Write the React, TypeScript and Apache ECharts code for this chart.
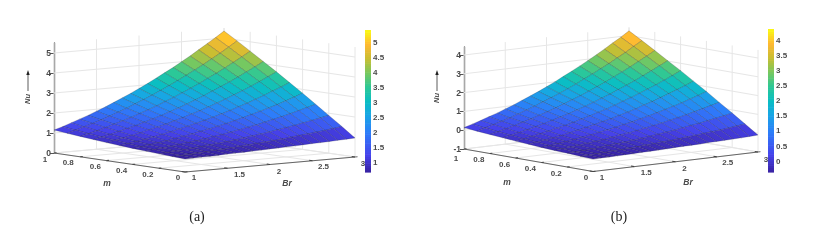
import React, { useEffect, useRef } from "react";
import * as echarts from "echarts";

const brValues = [1, 1.1, 1.2, 1.3, 1.4, 1.5, 1.6, 1.7, 1.8, 1.9, 2, 2.1, 2.2, 2.3, 2.4, 2.5, 2.6, 2.7, 2.8, 2.9, 3];
const mValues = [0, 0.1, 0.2, 0.3, 0.4, 0.5, 0.6, 0.7, 0.8, 0.9, 1];

// Nu values: one row per m, one column per Br
const nuA = [
  [0.65, 0.66, 0.67, 0.68, 0.69, 0.71, 0.72, 0.73, 0.75, 0.76, 0.78, 0.79, 0.81, 0.82, 0.84, 0.86, 0.87, 0.89, 0.91, 0.93, 0.95],
  [0.68, 0.70, 0.72, 0.74, 0.77, 0.80, 0.82, 0.85, 0.89, 0.92, 0.96, 0.99, 1.03, 1.07, 1.12, 1.17, 1.21, 1.26, 1.31, 1.37, 1.43],
  [0.72, 0.75, 0.78, 0.81, 0.85, 0.90, 0.94, 0.98, 1.03, 1.08, 1.14, 1.20, 1.26, 1.32, 1.40, 1.47, 1.54, 1.63, 1.71, 1.80, 1.89],
  [0.76, 0.80, 0.84, 0.89, 0.94, 1.00, 1.05, 1.12, 1.19, 1.25, 1.33, 1.41, 1.50, 1.58, 1.68, 1.78, 1.88, 1.99, 2.11, 2.23, 2.35],
  [0.80, 0.85, 0.91, 0.97, 1.03, 1.11, 1.18, 1.26, 1.35, 1.43, 1.53, 1.63, 1.74, 1.85, 1.97, 2.09, 2.22, 2.35, 2.50, 2.65, 2.81],
  [0.85, 0.91, 0.98, 1.05, 1.13, 1.22, 1.31, 1.41, 1.51, 1.62, 1.73, 1.85, 1.98, 2.11, 2.26, 2.40, 2.56, 2.72, 2.89, 3.06, 3.25],
  [0.90, 0.98, 1.06, 1.15, 1.24, 1.35, 1.45, 1.56, 1.69, 1.81, 1.95, 2.08, 2.23, 2.39, 2.55, 2.72, 2.89, 3.08, 3.27, 3.48, 3.69],
  [0.96, 1.05, 1.14, 1.25, 1.36, 1.47, 1.60, 1.73, 1.86, 2.01, 2.16, 2.32, 2.49, 2.66, 2.85, 3.04, 3.23, 3.44, 3.66, 3.88, 4.11],
  [1.02, 1.12, 1.23, 1.35, 1.48, 1.61, 1.75, 1.90, 2.05, 2.21, 2.39, 2.56, 2.75, 2.94, 3.14, 3.36, 3.57, 3.80, 4.04, 4.28, 4.53],
  [1.08, 1.20, 1.33, 1.46, 1.60, 1.75, 1.91, 2.07, 2.25, 2.43, 2.61, 2.81, 3.01, 3.23, 3.45, 3.68, 3.91, 4.16, 4.41, 4.68, 4.95],
  [1.15, 1.28, 1.43, 1.58, 1.73, 1.90, 2.07, 2.26, 2.45, 2.64, 2.85, 3.06, 3.29, 3.52, 3.75, 4.00, 4.25, 4.52, 4.79, 5.06, 5.35],
];

// Nu values
const nuB = [
  [-0.34, -0.33, -0.33, -0.32, -0.31, -0.30, -0.29, -0.28, -0.27, -0.26, -0.24, -0.23, -0.22, -0.21, -0.19, -0.18, -0.17, -0.15, -0.14, -0.12, -0.10],
  [-0.31, -0.30, -0.28, -0.26, -0.23, -0.21, -0.19, -0.16, -0.13, -0.10, -0.06, -0.04, 0, 0.04, 0.08, 0.13, 0.17, 0.21, 0.26, 0.32, 0.37],
  [-0.27, -0.25, -0.22, -0.19, -0.16, -0.11, -0.07, -0.04, 0.01, 0.06, 0.11, 0.17, 0.23, 0.28, 0.36, 0.43, 0.49, 0.58, 0.66, 0.74, 0.83],
  [-0.24, -0.20, -0.16, -0.12, -0.07, -0.01, 0.03, 0.10, 0.17, 0.22, 0.30, 0.38, 0.46, 0.54, 0.64, 0.73, 0.83, 0.94, 1.05, 1.17, 1.28],
  [-0.20, -0.15, -0.10, -0.04, 0.02, 0.09, 0.16, 0.24, 0.32, 0.40, 0.50, 0.59, 0.70, 0.80, 0.92, 1.04, 1.16, 1.29, 1.44, 1.58, 1.74],
  [-0.15, -0.09, -0.03, 0.04, 0.11, 0.20, 0.29, 0.38, 0.48, 0.59, 0.69, 0.81, 0.93, 1.06, 1.21, 1.34, 1.50, 1.66, 1.82, 1.99, 2.17],
  [-0.10, -0.03, 0.05, 0.14, 0.22, 0.33, 0.42, 0.53, 0.66, 0.77, 0.91, 1.03, 1.18, 1.34, 1.49, 1.66, 1.83, 2.01, 2.20, 2.40, 2.61],
  [-0.04, 0.04, 0.13, 0.23, 0.34, 0.45, 0.57, 0.70, 0.82, 0.97, 1.11, 1.27, 1.44, 1.60, 1.79, 1.97, 2.16, 2.37, 2.58, 2.80, 3.02],
  [0.01, 0.11, 0.22, 0.33, 0.46, 0.58, 0.72, 0.86, 1.01, 1.17, 1.34, 1.51, 1.69, 1.88, 2.07, 2.29, 2.50, 2.72, 2.96, 3.19, 3.44],
  [0.07, 0.19, 0.31, 0.44, 0.57, 0.72, 0.88, 1.03, 1.21, 1.38, 1.56, 1.75, 1.95, 2.17, 2.38, 2.61, 2.83, 3.08, 3.32, 3.59, 3.85],
  [0.14, 0.27, 0.41, 0.56, 0.70, 0.87, 1.03, 1.22, 1.40, 1.59, 1.79, 2.00, 2.23, 2.45, 2.68, 2.92, 3.17, 3.43, 3.70, 3.96, 4.25],
];

const brTicks = [1, 1.5, 2, 2.5, 3];
const mTicks = [1, 0.8, 0.6, 0.4, 0.2, 0];
const nuTicksA = [0, 1, 2, 3, 4, 5];
const nuTicksB = [-1, 0, 1, 2, 3, 4];
const barTicksA = [1, 1.5, 2, 2.5, 3, 3.5, 4, 4.5, 5];
const barTicksB = [0, 0.5, 1, 1.5, 2, 2.5, 3, 3.5, 4];

const COLOR_POS = [0, 0.12, 0.28, 0.4, 0.5, 0.6, 0.7, 0.8, 0.9, 1];
const COLOR_RGB: number[][] = [
  [56, 34, 160], [70, 66, 235], [45, 125, 250], [25, 165, 230], [10, 190, 195],
  [45, 200, 150], [120, 200, 95], [200, 190, 50], [255, 185, 50], [250, 250, 20],
];

function colormap(t: number) {
  const v = Math.max(0, Math.min(1, t));
  let i = 0;
  while (i < COLOR_POS.length - 2 && v > COLOR_POS[i + 1]) i++;
  const f = (v - COLOR_POS[i]) / (COLOR_POS[i + 1] - COLOR_POS[i]);
  const rgb = [0, 1, 2].map((k) => Math.round(COLOR_RGB[i][k] + (COLOR_RGB[i + 1][k] - COLOR_RGB[i][k]) * f));
  return `rgb(${rgb[0]},${rgb[1]},${rgb[2]})`;
}

type Panel = {
  left: number[]; front: number[]; right: number[];
  zScale: number; zFloor: number; zTop: number;
  nu: number[][]; nuTicks: number[]; min: number; max: number;
  barLeft: number; barTicks: number[];
};

const panels: Panel[] = [
  { left: [54, 153], front: [185, 172], right: [355, 157], zScale: 20, zFloor: 0, zTop: 5.5, nu: nuA, nuTicks: nuTicksA, min: 0.67, max: 5.4, barLeft: 365, barTicks: barTicksA },
  { left: [464, 149], front: [593, 171.5], right: [758, 152], zScale: 18.8, zFloor: -1, zTop: 4.43, nu: nuB, nuTicks: nuTicksB, min: -0.36, max: 4.37, barLeft: 768, barTicks: barTicksB },
];

function project(p: Panel, br: number, m: number, z: number) {
  const u = (br - 1) / 2;
  const v = m;
  return [
    p.front[0] + u * (p.right[0] - p.front[0]) + v * (p.left[0] - p.front[0]),
    p.front[1] + u * (p.right[1] - p.front[1]) + v * (p.left[1] - p.front[1]) - (z - p.zFloor) * p.zScale,
  ];
}

type Seg = { a: number[]; b: number[]; color: string; width: number };

function buildSegments(p: Panel): Seg[] {
  const grid = "#e6e6e6";
  const out: Seg[] = [];
  const push = (a: number[], b: number[], color: string, width: number) => out.push({ a, b, color, width });
  const f = p.zFloor;
  for (const br of brTicks) {
    push([br, 0, f], [br, 1, f], grid, 1);
    push([br, 1, f], [br, 1, p.zTop], grid, 1);
  }
  for (const m of mTicks) {
    push([1, m, f], [3, m, f], grid, 1);
    push([3, m, f], [3, m, p.zTop], grid, 1);
  }
  for (const z of p.nuTicks) {
    push([1, 1, z], [3, 1, z], grid, 1);
    push([3, 1, z], [3, 0, z], grid, 1);
  }
  return out;
}

function buildAxes(p: Panel): Seg[] {
  const dark = "#666666";
  const out: Seg[] = [];
  const f = p.zFloor;
  out.push({ a: [1, 1, f], b: [1, 0, f], color: dark, width: 1 });
  out.push({ a: [1, 0, f], b: [3.03, 0, f], color: dark, width: 1 });
  for (const m of mTicks) out.push({ a: [1, m, f], b: [1.03, m, f], color: "#444", width: 1.1 });
  for (const br of brTicks) out.push({ a: [br, 0, f], b: [br, 0.025, f], color: "#444", width: 1.1 });
  return out;
}

const mLabelOffsets = [[[-9, 6], [-12, 6], [-11, 6], [-11, 6], [-11, 6], [-7, 5]], [[-8, 9], [-11, 6], [-11, 6], [-11, 6], [-11, 6], [-7, 5.5]]];
const brLabelOffsets = [[[9, 5], [12, 6], [9, 6.5], [11, 6], [8, 6]], [[9, 5.5], [12, 6], [9, 6.5], [11, 6], [8, 7]]];
const labelFont = { fontFamily: "Liberation Sans", fontWeight: "bold" as const, fontSize: 8, fill: "#4a4a4a" };

function pageSeries(p: Panel, pi: number) {
  const segs = buildSegments(p);
  const axes = buildAxes(p);
  const lineRender = (list: Seg[]) => (params: any, api: any) => {
    const s = list[params.dataIndex];
    const a = api.coord(project(p, s.a[0], s.a[1], s.a[2]));
    const b = api.coord(project(p, s.b[0], s.b[1], s.b[2]));
    return { type: "line", shape: { x1: a[0], y1: a[1], x2: b[0], y2: b[1] }, style: { stroke: s.color, lineWidth: s.width } };
  };
  const cells: number[][] = [];
  for (let j = mValues.length - 2; j >= 0; j--) {
    for (let i = brValues.length - 2; i >= 0; i--) {
      cells.push([i, j]);
    }
  }
  const labels: { br: number; m: number; text: string; off: number[] }[] = [];
  mTicks.forEach((m, k) => labels.push({ br: 1, m, text: String(m), off: mLabelOffsets[pi][k] }));
  brTicks.forEach((br, k) => labels.push({ br, m: 0, text: String(br), off: brLabelOffsets[pi][k] }));

  return [
    {
      type: "custom", xAxisIndex: 0, yAxisIndex: 0, clip: false, z: 1, silent: true,
      data: segs.map((_, i) => [i, 0]), renderItem: lineRender(segs),
    },
    {
      type: "custom", xAxisIndex: 0, yAxisIndex: 0, clip: false, z: 2, silent: true,
      data: cells,
      renderItem: (params: any, api: any) => {
        const [i, j] = cells[params.dataIndex];
        const corners = [[i, j], [i + 1, j], [i + 1, j + 1], [i, j + 1]];
        let sum = 0;
        const points = corners.map(([a, b]) => {
          sum += p.nu[b][a];
          return api.coord(project(p, brValues[a], mValues[b], p.nu[b][a]));
        });
        const t = (sum / 4 - p.min) / (p.max - p.min);
        return {
          type: "polygon", shape: { points },
          style: { fill: colormap(t), stroke: "rgba(20,20,40,0.34)", lineWidth: 0.6 },
        };
      },
    },
    {
      type: "custom", xAxisIndex: 0, yAxisIndex: 0, clip: false, z: 3, silent: true,
      data: axes.map((_, i) => [i, 0]), renderItem: lineRender(axes),
    },
    {
      type: "custom", xAxisIndex: 0, yAxisIndex: 0, clip: false, z: 4, silent: true,
      data: labels.map((_, i) => [i, 0]),
      renderItem: (params: any, api: any) => {
        const l = labels[params.dataIndex];
        const c = api.coord(project(p, l.br, l.m, p.zFloor));
        return {
          type: "text",
          style: { text: l.text, x: c[0] + l.off[0], y: c[1] + l.off[1], align: "center", verticalAlign: "middle", ...labelFont },
        };
      },
    },
  ];
}

function barSeries(p: Panel, axisIndex: number) {
  const steps = 64;
  const bands = Array.from({ length: steps }, (_, i) => [0, i]);
  const h = (p.max - p.min) / steps;
  return {
    type: "custom", xAxisIndex: axisIndex, yAxisIndex: axisIndex, silent: true, z: 2,
    data: bands,
    renderItem: (params: any, api: any) => {
      const i = params.dataIndex;
      const a = api.coord([0, p.min + i * h]);
      const b = api.coord([1, p.min + (i + 1) * h]);
      return {
        type: "rect",
        shape: { x: a[0], y: b[1], width: b[0] - a[0], height: a[1] - b[1] + 0.6 },
        style: { fill: colormap((i + 0.5) / steps) },
      };
    },
  };
}

function annotation(x: number, y: number, text: string, style: any, rotation = 0) {
  return {
    type: "text", x, y, rotation, z: 10, silent: true,
    style: { text, align: "center", verticalAlign: "middle", ...style },
  };
}

export default function App() {
  const ref = useRef<HTMLDivElement>(null);
  useEffect(() => {
    const chart = echarts.init(ref.current!, undefined, { renderer: "svg" });
    const hiddenX = (gridIndex: number, min: number, max: number) => ({ type: "value", gridIndex, min, max, show: false });
    const nuAxis = (p: Panel, gridIndex: number) => ({
      type: "value", gridIndex, min: p.zFloor, max: p.zTop, position: "left",
      splitLine: { show: false },
      axisLine: { show: true, onZero: false, lineStyle: { color: "#6a6a6a", width: 1.4 } },
      axisTick: { show: true, length: 4, customValues: p.nuTicks, lineStyle: { color: "#555" } },
      axisLabel: { customValues: p.nuTicks, margin: 3, fontSize: 8.5, fontWeight: "bold", fontFamily: "Liberation Sans", color: "#4a4a4a" },
    });
    const barAxis = (p: Panel, gridIndex: number) => ({
      type: "value", gridIndex, min: p.min, max: p.max, position: "right",
      splitLine: { show: false },
      axisLine: { show: false },
      axisTick: { show: false },
      axisLabel: { customValues: p.barTicks, margin: 2, fontSize: 8, fontWeight: "bold", fontFamily: "Liberation Sans", color: "#4a4a4a" },
    });
    const nuStyle = { fontFamily: "Liberation Sans", fontWeight: "bold", fontStyle: "italic", fontSize: 7.5, fill: "#4a4a4a" };
    const axisNameStyle = { fontFamily: "Liberation Sans", fontWeight: "bold", fontStyle: "italic", fontSize: 8.5, fill: "#4a4a4a" };
    const capStyle = { fontFamily: "Liberation Serif", fontSize: 14, fill: "#222" };
    const arrow = (x: number) => [
      { type: "line", z: 10, silent: true, shape: { x1: x, y1: 91, x2: x, y2: 74 }, style: { stroke: "#333", lineWidth: 0.8 } },
      { type: "polygon", z: 10, silent: true, shape: { points: [[x, 70], [x - 1.7, 75], [x + 1.7, 75]] }, style: { fill: "#222" } },
    ];
    chart.setOption({
      animation: false,
      backgroundColor: "#ffffff",
      grid: [
        { left: 0, top: 0, width: 833, height: 243 },
        { left: 54, top: 43, width: 1, height: 110 },
        { left: 464, top: 47, width: 1, height: 102 },
        { left: 365, top: 30, width: 6, height: 142 },
        { left: 768, top: 29, width: 6, height: 143 },
      ],
      xAxis: [hiddenX(0, 0, 833), hiddenX(1, 0, 1), hiddenX(2, 0, 1), hiddenX(3, 0, 1), hiddenX(4, 0, 1)],
      yAxis: [
        { type: "value", gridIndex: 0, min: 0, max: 243, inverse: true, show: false },
        nuAxis(panels[0], 1),
        nuAxis(panels[1], 2),
        barAxis(panels[0], 3),
        barAxis(panels[1], 4),
      ],
      graphic: [
        annotation(27, 99, "Nu", nuStyle, Math.PI / 2),
        annotation(436, 98, "Nu", nuStyle, Math.PI / 2),
        ...arrow(28),
        ...arrow(437),
        annotation(107, 183, "m", axisNameStyle),
        annotation(287, 183, "Br", axisNameStyle),
        annotation(507, 182, "m", axisNameStyle),
        annotation(688, 182, "Br", axisNameStyle),
        annotation(197, 216.5, "(a)", capStyle),
        annotation(619, 216.5, "(b)", capStyle),
      ],
      series: [
        ...pageSeries(panels[0], 0),
        ...pageSeries(panels[1], 1),
        barSeries(panels[0], 3),
        barSeries(panels[1], 4),
      ],
    });
    return () => chart.dispose();
  }, []);
  return (
    <div
      ref={ref}
      style={{ position: "absolute", left: 0, top: 0, width: 833, height: 243, filter: "blur(0.4px)" }}
    />
  );
}
